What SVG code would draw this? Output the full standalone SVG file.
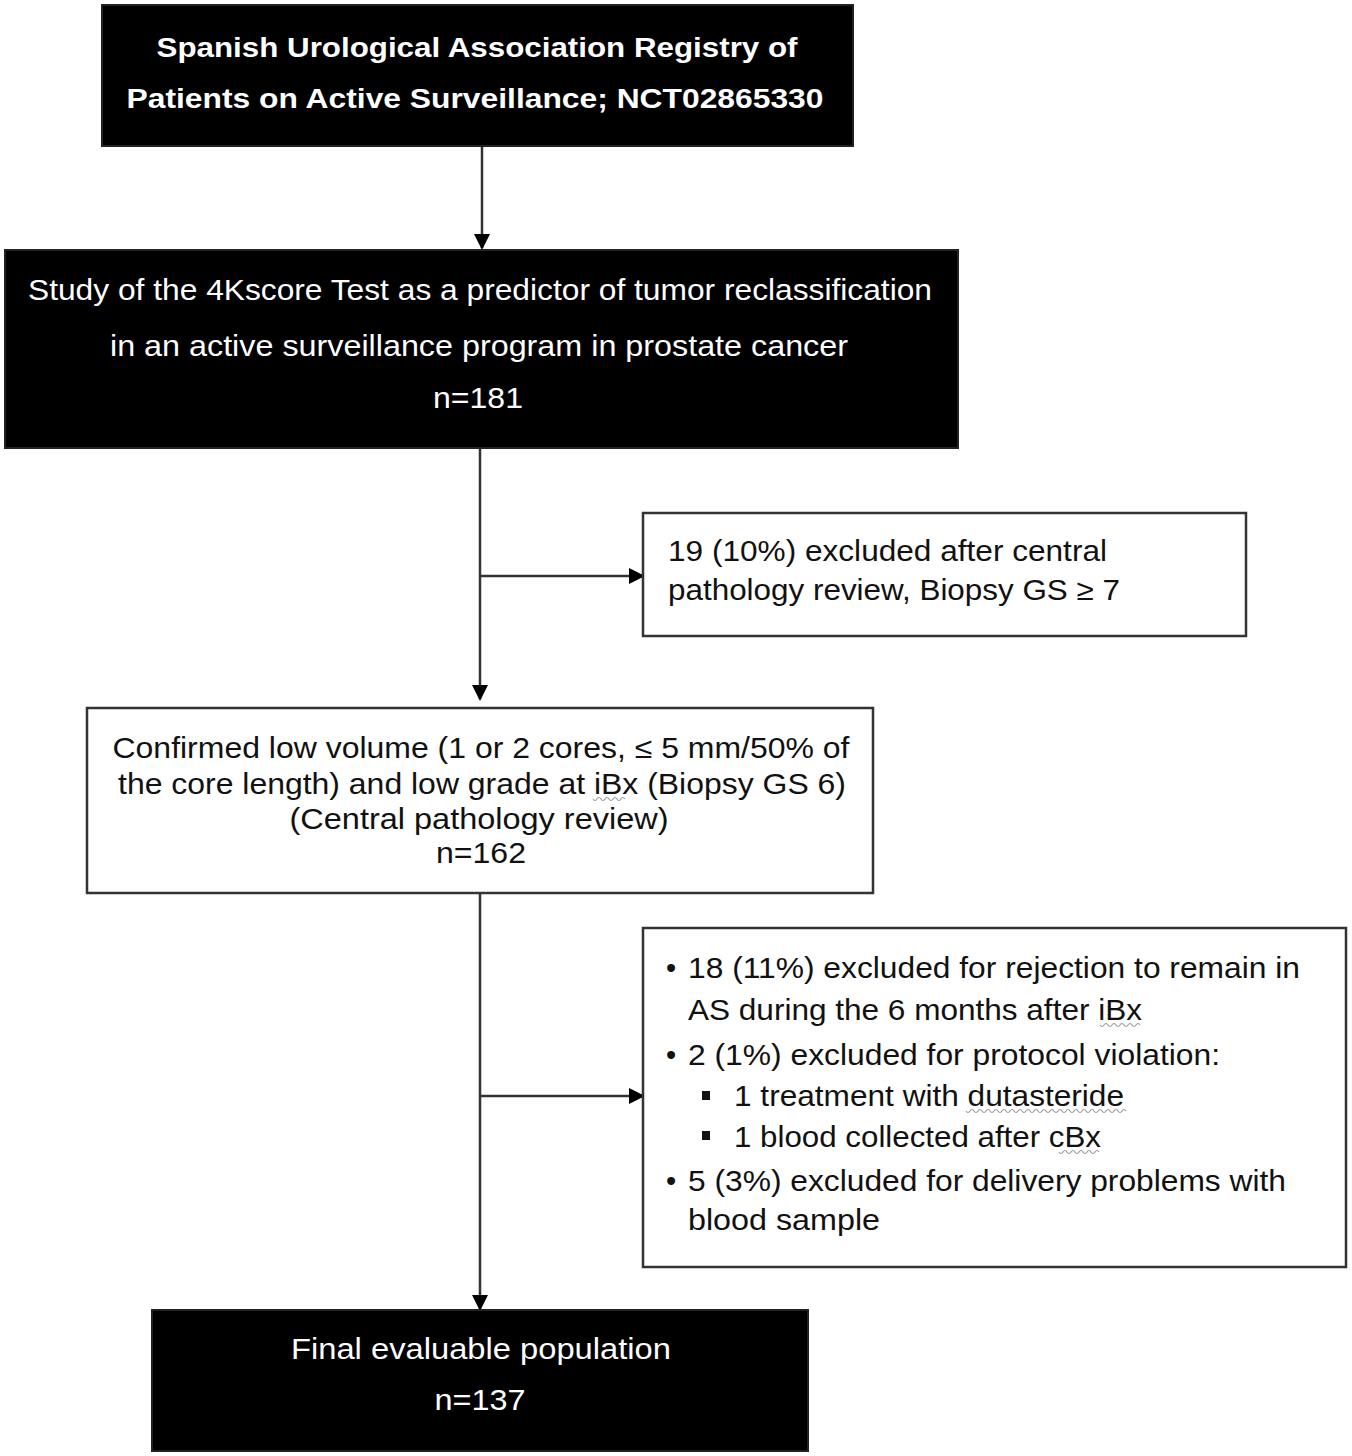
<svg xmlns="http://www.w3.org/2000/svg" width="1352" height="1456" viewBox="0 0 1352 1456">
<defs>
<marker id="ah" markerWidth="16" markerHeight="16" refX="14" refY="8" orient="auto" markerUnits="userSpaceOnUse">
<path d="M0,0 L16,8 L0,16 Z" fill="#000"/>
</marker>
<style>
.dark{fill:#000;stroke:#222;stroke-width:2}
.light{fill:#fff;stroke:#333;stroke-width:2.5}
.wt{fill:#fff;font-family:"Liberation Sans",Arial,sans-serif;font-size:29px}
.wb{fill:#fff;font-family:"Liberation Sans",Arial,sans-serif;font-size:27px;font-weight:bold}
.bt{fill:#111;font-family:"Liberation Sans",Arial,sans-serif;font-size:29px}
.c{text-anchor:middle}
.conn{stroke:#333;stroke-width:2.5;fill:none}
.sq{stroke:#999;stroke-width:1.2;fill:none}
</style>
</defs>
<rect width="1352" height="1456" fill="#fff"/>
<g id="connectors">
<line class="conn" x1="482" y1="146" x2="482" y2="248" marker-end="url(#ah)"/>
<line class="conn" x1="480" y1="448" x2="480" y2="699" marker-end="url(#ah)"/>
<line class="conn" x1="480" y1="576" x2="643" y2="576" marker-end="url(#ah)"/>
<line class="conn" x1="480" y1="893" x2="480" y2="1309" marker-end="url(#ah)"/>
<line class="conn" x1="480" y1="1096" x2="643" y2="1096" marker-end="url(#ah)"/>
</g>
<g id="registry">
<rect class="dark" x="102" y="5" width="751" height="141"/>
<text class="wb c" x="477" y="57" textLength="641" lengthAdjust="spacingAndGlyphs">Spanish Urological Association Registry of</text>
<text class="wb c" x="475" y="108" textLength="697" lengthAdjust="spacingAndGlyphs">Patients on Active Surveillance; NCT02865330</text>
</g>
<g id="study">
<rect class="dark" x="5" y="250" width="953" height="198"/>
<text class="wt c" x="480" y="300" textLength="904" lengthAdjust="spacingAndGlyphs">Study of the 4Kscore Test as a predictor of tumor reclassification</text>
<text class="wt c" x="479" y="356" textLength="738" lengthAdjust="spacingAndGlyphs">in an active surveillance program in prostate cancer</text>
<text class="wt c" x="478" y="408" textLength="90" lengthAdjust="spacingAndGlyphs">n=181</text>
</g>
<g id="excluded1">
<rect class="light" x="643" y="513" width="603" height="123"/>
<text class="bt" x="668" y="561" textLength="439" lengthAdjust="spacingAndGlyphs">19 (10%) excluded after central</text>
<text class="bt" x="668" y="600" textLength="452" lengthAdjust="spacingAndGlyphs">pathology review, Biopsy GS ≥ 7</text>
</g>
<g id="confirmed">
<rect class="light" x="87" y="708" width="786" height="185"/>
<text class="bt c" x="481" y="758" textLength="737" lengthAdjust="spacingAndGlyphs">Confirmed low volume (1 or 2 cores, ≤ 5 mm/50% of</text>
<text class="bt c" x="482" y="794" textLength="728" lengthAdjust="spacingAndGlyphs">the core length) and low grade at iBx (Biopsy GS 6)</text>
<text class="bt c" x="479" y="829" textLength="379" lengthAdjust="spacingAndGlyphs">(Central pathology review)</text>
<text class="bt c" x="481" y="863" textLength="90" lengthAdjust="spacingAndGlyphs">n=162</text>
<path class="sq" d="M593,799 q2,3 4,0 t4,0 t4,0 t4,0 t4,0 t4,0 t4,0 t4,0"/>
</g>
<g id="excluded2">
<rect class="light" x="643" y="928" width="703" height="339"/>
<text class="bt" x="666" y="978">•</text>
<text class="bt" x="688" y="978" textLength="612" lengthAdjust="spacingAndGlyphs">18 (11%) excluded for rejection to remain in</text>
<text class="bt" x="688" y="1020" textLength="454" lengthAdjust="spacingAndGlyphs">AS during the 6 months after iBx</text>
<text class="bt" x="666" y="1065">•</text>
<text class="bt" x="688" y="1065" textLength="532" lengthAdjust="spacingAndGlyphs">2 (1%) excluded for protocol violation:</text>
<rect x="702" y="1091" width="8" height="9" fill="#111"/>
<text class="bt" x="734" y="1106" textLength="390" lengthAdjust="spacingAndGlyphs">1 treatment with dutasteride</text>
<rect x="702" y="1131" width="8" height="9" fill="#111"/>
<text class="bt" x="734" y="1147" textLength="367" lengthAdjust="spacingAndGlyphs">1 blood collected after cBx</text>
<text class="bt" x="666" y="1191">•</text>
<text class="bt" x="688" y="1191" textLength="598" lengthAdjust="spacingAndGlyphs">5 (3%) excluded for delivery problems with</text>
<text class="bt" x="688" y="1230" textLength="192" lengthAdjust="spacingAndGlyphs">blood sample</text>
<path class="sq" d="M1100,1025 q2,3 4,0 t4,0 t4,0 t4,0 t4,0 t4,0 t4,0 t4,0 t4,0 t4,0"/>
<path class="sq" d="M966,1111 q2,3 4,0 t4,0 t4,0 t4,0 t4,0 t4,0 t4,0 t4,0 t4,0 t4,0 t4,0 t4,0 t4,0 t4,0 t4,0 t4,0 t4,0 t4,0 t4,0 t4,0 t4,0 t4,0 t4,0 t4,0 t4,0 t4,0 t4,0 t4,0 t4,0 t4,0 t4,0 t4,0 t4,0 t4,0 t4,0 t4,0 t4,0 t4,0 t4,0 t4,0"/>
<path class="sq" d="M1059,1152 q2,3 4,0 t4,0 t4,0 t4,0 t4,0 t4,0 t4,0 t4,0 t4,0 t4,0"/>
</g>
<g id="final">
<rect class="dark" x="152" y="1310" width="656" height="141"/>
<text class="wt c" x="481" y="1359" textLength="380" lengthAdjust="spacingAndGlyphs">Final evaluable population</text>
<text class="wt c" x="480" y="1410" textLength="91" lengthAdjust="spacingAndGlyphs">n=137</text>
</g>
</svg>
